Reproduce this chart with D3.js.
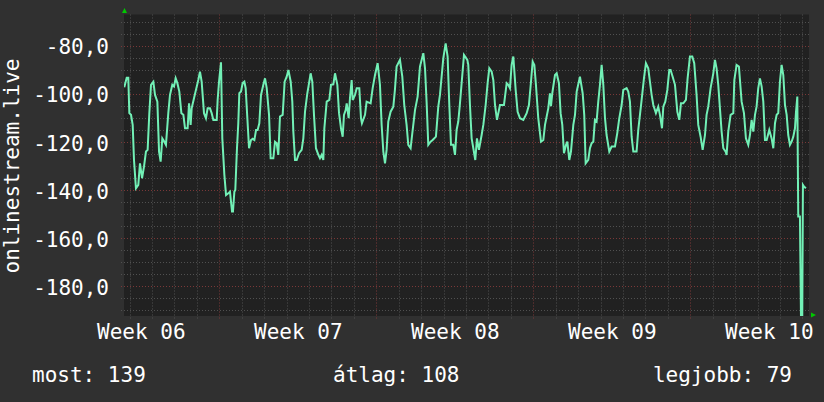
<!DOCTYPE html>
<html><head><meta charset="utf-8">
<script src="https://cdn.jsdelivr.net/npm/d3@7"></script>
<style>html,body{margin:0;padding:0;background:#303030;} svg{display:block;}</style>
</head><body><svg id="chart" width="824" height="402"></svg>
<script>
// ---------- data ----------
const seriesName = "onlinestream.live";
const startTime = Date.UTC(2024, 1, 7, 18);   // left edge of the plot
const spanHours = 733;                         // visible time span
const yDomain = [-192.3, -66.7];
const yTickValues = [-80, -100, -120, -140, -160, -180];
const yMinorStep = 5;
const weekLabelFormat = "Week %V";
const legendLabels = ["most", "átlag", "legjobb"];
const legendValues = [139, 108, 79];

// hours since startTime
const hoursSinceStart = [
0.3,2.9,4.6,5.7,7.5,9.3,10.7,12.8,15.3,17.1,
19.3,21.4,23.5,25.3,27.1,28.9,31.4,33.2,35.7,37.5,
39.2,41.0,43.2,44.9,47.4,49.2,51.7,53.5,55.3,57.1,
59.2,61.4,63.5,65.3,68.1,69.6,71.3,72.4,74.9,77.0,
79.5,81.3,83.1,85.6,87.7,89.5,92.0,93.8,95.6,99.2,
100.2,101.7,103.8,105.2,107.4,109.2,111.6,113.4,115.6,116.6,
118.1,119.1,120.9,122.3,123.4,125.2,127.0,128.8,130.2,132.0,
133.8,135.9,137.7,139.5,141.3,143.0,144.8,146.6,149.1,150.9,
152.7,155.2,156.9,159.8,161.6,163.4,165.1,166.9,169.8,171.9,
174.1,175.9,178.4,180.1,181.2,183.0,184.8,187.3,190.1,191.9,
193.7,196.2,198.0,199.7,201.5,203.3,205.4,208.0,209.7,211.5,
213.3,214.4,216.9,219.7,221.5,224.0,225.8,228.3,230.1,232.2,
234.0,235.4,237.2,238.3,240.4,241.8,243.6,
244.7,247.2,249.0,251.8,253.6,254.6,257.9,259.6,263.9,266.1,
268.6,271.4,273.9,275.7,277.5,279.3,281.0,282.8,285.3,288.2,
289.9,291.7,295.3,297.8,299.9,302.4,304.2,306.7,308.5,311.4,
314.2,316.7,320.3,322.1,323.8,325.6,328.1,330.3,333.8,336.3,
338.1,341.7,344.2,346.3,348.1,349.9,352.4,354.2,355.9,357.7,
359.5,363.8,367.4,368.4,370.2,372.0,373.8,375.9,377.7,379.8,
382.7,384.5,387.0,389.1,390.9,393.4,395.2,397.0,399.1,402.3,
406.6,409.5,411.2,413.0,414.8,416.6,419.1,421.2,423.7,427.3,
430.9,433.3,435.5,437.3,439.1,440.8,443.3,446.2,448.7,450.5,
454.0,455.8,456.9,458.3,461.2,463.0,465.4,467.2,469.0,470.8,
473.0,474.4,476.5,478.3,480.8,482.6,484.4,487.9,
490.8,492.5,494.0,496.8,498.6,500.4,502.2,503.9,505.7,507.5,
509.3,511.1,512.9,514.7,516.4,519.3,521.8,525.4,527.8,530.0,
532.5,534.3,537.8,539.6,541.4,543.2,545.0,548.5,550.3,552.1,
553.9,556.4,558.5,561.0,562.8,564.6,566.4,569.2,571.7,573.5,
575.7,577.1,579.2,581.4,583.5,584.9,587.1,589.6,592.1,594.2,
596.0,598.5,601.3,603.1,605.6,608.1,610.2,612.7,614.5,617.0,
619.2,621.7,623.4,625.2,627.7,630.6,632.4,634.1,635.9,637.7,
639.5,641.3,643.8,644.8,646.6,649.1,652.0,653.1,655.5,658.0,
660.9,663.4,665.5,668.0,669.8,671.6,673.4,675.2,676.9,678.7,
680.5,682.3,684.1,685.9,687.7,690.5,693.0,694.8,696.6,698.4,
700.1,701.9,703.7,705.5,707.3,709.1,710.8,712.6,714.4,716.2,
718.0,719.0,720.5,721.5,723.3,724.4,725.8,726.5,727.6,729.7
];
const signalValues = [
-97.0,-93.0,-93.0,-107.8,-108.5,-112.7,-127.3,-139.1,-137.7,-128.7,
-134.9,-130.1,-123.8,-123.1,-107.8,-96.0,-94.7,-100.2,-103.0,-123.8,
-128.0,-118.3,-119.7,-121.0,-107.8,-100.2,-96.0,-96.7,-93.3,-95.3,
-98.8,-107.8,-108.5,-114.1,-114.1,-103.7,-112.7,-105.8,-101.6,-98.1,
-94.0,-90.5,-94.7,-107.8,-109.9,-105.8,-105.8,-107.8,-110.6,-110.6,
-102.3,-94.7,-86.6,-118.3,-133.5,-141.9,-141.2,-140.5,-148.8,-148.8,
-140.5,-139.8,-122.4,-112.0,-99.5,-98.8,-95.3,-94.7,-97.4,-109.9,
-122.4,-119.0,-118.5,-119.0,-114.8,-114.8,-112.0,-100.2,-96.0,-93.3,
-97.4,-108.5,-126.6,-126.6,-119.7,-120.3,-125.2,-109.2,-108.5,-94.7,
-92.6,-89.8,-94.7,-103.0,-115.5,-127.3,-127.3,-124.5,-123.1,-118.3,
-107.2,-99.5,-95.3,-91.2,-94.7,-108.5,-122.4,-125.2,-126.6,-125.2,
-127.3,-114.1,-103.0,-102.3,-96.0,-95.8,-91.2,-96.0,-107.8,-114.1,
-117.6,-108.5,-106.5,-103.7,-109.9,-101.6,-94.0,
-102.3,-100.2,-97.4,-97.4,-109.9,-112.0,-108.5,-103.0,-103.7,-97.4,
-91.9,-87.0,-96.0,-112.7,-123.8,-128.7,-123.1,-111.3,-107.2,-105.1,
-98.1,-88.4,-85.6,-92.6,-104.4,-112.7,-121.0,-122.4,-116.2,-106.5,
-100.9,-88.4,-82.8,-89.1,-103.0,-121.0,-119.7,-119.0,-117.6,-105.1,
-100.2,-84.9,-78.7,-84.2,-104.4,-121.0,-121.0,-125.2,-114.8,-111.3,
-103.7,-83.5,-85.6,-87.7,-104.4,-118.3,-122.4,-127.3,-118.3,-123.1,
-116.9,-112.7,-104.4,-95.3,-89.1,-90.5,-94.0,-104.4,-110.6,-104.4,
-104.4,-95.3,-96.0,-97.4,-87.7,-84.2,-98.1,-107.2,-109.9,-110.6,
-107.8,-104.4,-94.7,-86.3,-87.7,-96.0,-109.9,-119.7,-119.0,-112.7,
-105.8,-99.5,-104.9,-99.5,-91.9,-91.2,-95.3,-107.8,-112.7,-124.5,
-121.0,-119.7,-127.3,-123.8,-112.7,-108.5,-98.8,-92.6,
-99.5,-108.5,-128.7,-127.3,-122.4,-120.3,-119.7,-110.6,-111.3,-103.0,
-96.0,-87.7,-96.0,-109.9,-116.9,-123.8,-121.7,-121.7,-116.2,-109.9,
-104.4,-98.1,-97.4,-98.8,-103.0,-117.6,-123.8,-123.8,-114.8,-108.5,
-102.3,-93.3,-87.0,-89.1,-94.7,-100.2,-104.4,-107.8,-105.1,-108.5,
-114.1,-105.1,-103.0,-98.1,-89.8,-89.8,-92.6,-96.0,-107.2,-110.6,
-103.7,-103.7,-102.3,-93.3,-84.2,-84.2,-87.0,-100.2,-112.7,-117.6,
-123.1,-116.9,-108.5,-105.1,-97.4,-91.2,-85.6,-89.1,-96.0,-105.8,
-115.5,-122.4,-123.8,-125.2,-115.5,-108.5,-107.8,-94.0,-87.7,-88.4,
-103.0,-107.8,-118.3,-121.0,-116.9,-110.6,-115.5,-108.5,-105.1,-97.4,
-93.3,-96.7,-103.0,-119.0,-119.0,-114.8,-118.3,-122.4,-112.0,-108.5,
-107.8,-94.7,-87.7,-91.9,-104.4,-108.5,-116.9,-121.0,-119.7,-117.6,
-114.1,-107.8,-100.9,-150.9,-150.9,-191.9,-191.9,-137.7,-138.4,-139.1
];

// ---------- layout ----------
const plot = {left: 124, right: 809, top: 14.5, bottom: 316};
const FONT = "'DejaVu Sans Mono', monospace";
const FS = 21;
const C = {bg: "#303030", plot: "#212121", minor: "#505050", major: "#7a3838",
           line: "#72f0b6", text: "#ffffff", arrow: "#00c800"};

const svg = d3.select("#chart");
const start = new Date(startTime);
const end = new Date(startTime + spanHours * 3600e3);
const x = d3.scaleUtc().domain([start, end]).range([plot.left, plot.right]);
const y = d3.scaleLinear().domain(yDomain).range([plot.bottom, plot.top]);
const snap = v => Math.round(v) + 0.5;

svg.append("rect").attr("width", 824).attr("height", 402).attr("fill", C.bg);
svg.append("rect").attr("x", plot.left).attr("y", plot.top)
  .attr("width", plot.right - plot.left).attr("height", plot.bottom - plot.top)
  .attr("fill", C.plot);

// grid
const grid = svg.append("g");
const yMinor = d3.range(Math.ceil(yDomain[0] / yMinorStep) * yMinorStep, yDomain[1], yMinorStep)
  .filter(v => !yTickValues.includes(v));
const days = d3.utcDay.range(start, end);
const weeks = d3.utcMonday.range(start, end);
const isWeek = d => weeks.some(w => +w === +d);

grid.selectAll(".hmin").data(yMinor).join("line")
  .attr("x1", plot.left - 3).attr("x2", plot.right)
  .attr("y1", d => snap(y(d))).attr("y2", d => snap(y(d)))
  .attr("stroke", C.minor).attr("stroke-dasharray", "1,2");
grid.selectAll(".vmin").data(days.filter(d => !isWeek(d))).join("line")
  .attr("x1", d => snap(x(d))).attr("x2", d => snap(x(d)))
  .attr("y1", plot.top).attr("y2", plot.bottom + 3)
  .attr("stroke", C.minor).attr("stroke-dasharray", "1,2");
grid.selectAll(".hmaj").data(yTickValues).join("line")
  .attr("x1", plot.left - 3).attr("x2", plot.right)
  .attr("y1", d => snap(y(d))).attr("y2", d => snap(y(d)))
  .attr("stroke", C.major).attr("stroke-dasharray", "1,2");
grid.selectAll(".vmaj").data(weeks).join("line")
  .attr("x1", d => snap(x(d))).attr("x2", d => snap(x(d)))
  .attr("y1", plot.top).attr("y2", plot.bottom + 3)
  .attr("stroke", C.major).attr("stroke-dasharray", "1,2");

// line
svg.append("clipPath").attr("id", "clip").append("rect")
  .attr("x", plot.left).attr("y", plot.top)
  .attr("width", plot.right - plot.left).attr("height", plot.bottom - plot.top);
const n = Math.min(hoursSinceStart.length, signalValues.length);
const pts = d3.range(n).map(i => ({t: new Date(startTime + hoursSinceStart[i] * 3600e3), v: signalValues[i]}));
svg.append("path").datum(pts)
  .attr("clip-path", "url(#clip)")
  .attr("fill", "none").attr("stroke", C.line).attr("stroke-width", 2)
  .attr("stroke-linejoin", "miter")
  .attr("d", d3.line().x(d => x(d.t)).y(d => y(d.v)));

// axes (labels)
const loc = d3.formatLocale({decimal: ",", thousands: ".", grouping: [3], currency: ["", ""], minus: "-"});
const fmt = loc.format(".1f");
const yAxis = svg.append("g").attr("transform", `translate(${plot.left},0)`)
  .call(d3.axisLeft(y).tickValues(yTickValues).tickFormat(fmt).tickSize(0).tickPadding(15));
yAxis.select(".domain").remove();
yAxis.selectAll("text").attr("font-family", FONT).attr("font-size", FS).attr("fill", C.text).attr("dy", "0.36em");

const weekCenters = d3.utcMonday.range(d3.utcMonday.floor(start), end)
  .map(d => new Date(+d + 3.5 * 86400e3))
  .filter(d => d >= start && d <= end);
const xAxis = svg.append("g").attr("transform", `translate(0,${plot.bottom})`)
  .call(d3.axisBottom(x).tickValues(weekCenters).tickFormat(d3.utcFormat(weekLabelFormat)).tickSize(0).tickPadding(8));
xAxis.select(".domain").remove();
xAxis.selectAll("text").attr("font-family", FONT).attr("font-size", FS).attr("fill", C.text);

// arrows
svg.append("path").attr("d", d3.line()([[122, 13], [127, 13], [124.5, 8]]) + "Z").attr("fill", C.arrow);
svg.append("path").attr("d", d3.line()([[811, 312.5], [811, 317.5], [816, 315]]) + "Z").attr("fill", C.arrow);

// y label
svg.append("text").attr("transform", "translate(18.5,166) rotate(-90)")
  .attr("text-anchor", "middle").attr("font-family", FONT).attr("font-size", FS)
  .attr("fill", C.text).text(seriesName);

// legend
const legendX = [32, 333, 792];
const legendAnchor = ["start", "start", "end"];
svg.selectAll(".leg").data(legendLabels).join("text")
  .attr("x", (d, i) => legendX[i]).attr("y", 382)
  .attr("text-anchor", (d, i) => legendAnchor[i])
  .attr("font-family", FONT).attr("font-size", FS).attr("fill", C.text)
  .text((d, i) => `${d}: ${legendValues[i]}`);
</script>
</body></html>
